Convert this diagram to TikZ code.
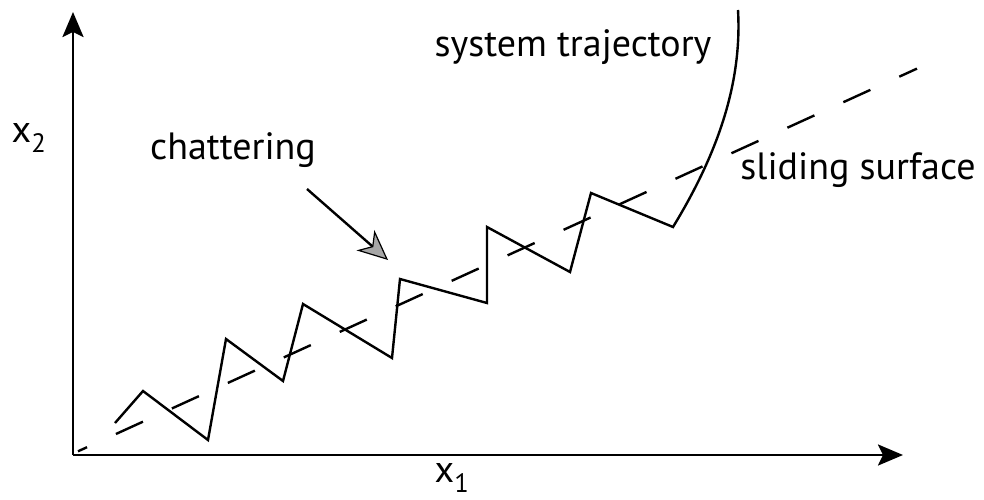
\documentclass[tikz,border=0pt]{standalone}
\usepackage{fontspec}
\setmainfont{PT Sans}
\usetikzlibrary{arrows.meta}
\begin{document}
\begin{tikzpicture}[x=1pt,y=-1pt,
  axis/.style={line width=2.6pt,-{Stealth[length=25pt,width=21pt,inset=5pt]}},
  traj/.style={line width=2.4pt,line join=miter},
  surf/.style={line width=2.4pt,dash pattern=on 29.7pt off 31.8pt,dash phase=19.8pt},
  pointer/.style={line width=2.4pt,-{Stealth[length=30pt,width=27pt,inset=9pt,fill=gray!70,line width=1.2pt]}},
  lbl/.style={font=\fontsize{38}{44}\selectfont,inner sep=0pt}]
\useasboundingbox (0,0) rectangle (984,500);
% axes
\coordinate (O) at (73,455);
\coordinate (Ytop) at (73,12);
\coordinate (Xend) at (903,455);
\draw[axis] (O) -- (Ytop);
\draw[axis] (O) -- (Xend);
\node[lbl] (x2) at (29,138) {x\textsubscript{2}};
\node[lbl] (x1) at (452,478) {x\textsubscript{1}};
% sliding surface
\coordinate (S0) at (78,451.3);
\coordinate (S1) at (917,68.6);
\draw[surf] (S0) -- (S1);
% trajectory
\coordinate (p0) at (115,423);
\coordinate (p1) at (143,391);
\coordinate (p2) at (208,440);
\coordinate (p3) at (226,339);
\coordinate (p4) at (283,381);
\coordinate (p5) at (303,304);
\coordinate (p6) at (392,358);
\coordinate (p7) at (400,279);
\coordinate (p8) at (487,303);
\coordinate (p9) at (487,227);
\coordinate (p10) at (570,272);
\coordinate (p11) at (591,193);
\coordinate (p12) at (673,227);
\coordinate (p13) at (738,10);
\draw[traj] (p0) -- (p1) -- (p2) -- (p3) -- (p4) -- (p5) -- (p6) -- (p7) -- (p8) -- (p9) -- (p10) -- (p11) -- (p12)
  .. controls (720,150) and (742,80) .. (p13);
% labels
\node[lbl] (chat) at (233,150) {chattering};
\node[lbl] (sys) at (573,47) {system trajectory};
\node[lbl] (slide) at (858,170) {sliding surface};
\coordinate (A0) at (307,189);
\coordinate (A1) at (388,260);
\draw[pointer] (A0) -- (A1);
\end{tikzpicture}
\end{document}
